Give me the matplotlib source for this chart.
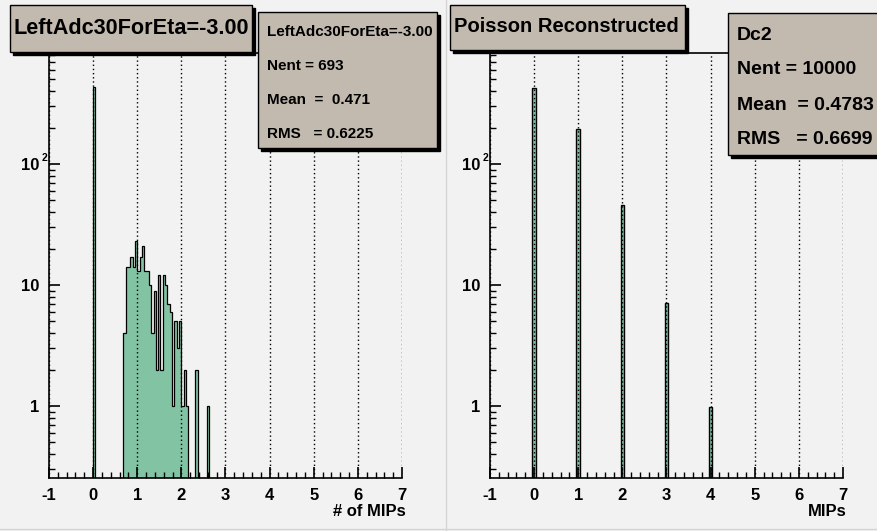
import numpy as np
import matplotlib.pyplot as plt
from matplotlib.patches import Rectangle
from matplotlib.lines import Line2D
from matplotlib.ticker import FixedLocator, MultipleLocator, LogLocator, NullFormatter

W, H = 878, 531
plt.rcParams['font.family'] = ['Liberation Sans', 'DejaVu Sans']
plt.rcParams['font.weight'] = 'bold'
plt.rcParams['axes.unicode_minus'] = False

# ---- data ----
mips_edges = np.linspace(-1, 7, 153)          # 152 bins over [-1, 7]
left_first_bin = 19                          # bin starting at 0 MIPs
left_counts = ([430] + [0]*12 +
               [4, 14, 14, 17, 14, 23, 13, 17, 21, 13, 13, 10, 4, 9,
                2, 12, 2, 12, 10, 7, 6, 1, 5, 3, 5, 1, 2, 1] +
               [0, 0, 0, 2, 0, 0, 0, 0, 1])
poisson_n = [0, 1, 2, 3, 4]
poisson_counts = [425, 196, 46, 7.1, 0.98]
xticks = list(range(-1, 8))
yticks = [1, 10, 100]
ytick_labels = ['1', '10', '10']

left_title = 'LeftAdc30ForEta=-3.00'
left_stats = ['LeftAdc30ForEta=-3.00', 'Nent = 693', 'Mean  =  0.471', 'RMS   = 0.6225']
right_title = 'Poisson Reconstructed'
right_stats = ['Dc2', 'Nent = 10000', 'Mean  = 0.4783', 'RMS   = 0.6699']

BG = '#f2f2f2'; BOX = '#c2b9af'; FILL = '#82c3a4'

fig = plt.figure(figsize=(W/100, H/100), dpi=100, facecolor=BG)
def fx(x): return x/W
def fy(y): return 1 - y/H

axL = fig.add_axes([fx(49), fy(478), 353/W, 425/H])
axR = fig.add_axes([fx(490), fy(478), 353/W, 425/H])

def setup(ax, xlabel):
    ax.set_facecolor(BG)
    ax.set_xlim(-1, 7); ax.set_yscale('log'); ax.set_ylim(0.254, 827)
    ax.spines['right'].set_visible(False)
    for s in ['left', 'bottom', 'top']: ax.spines[s].set_linewidth(1.2)
    ax.xaxis.set_major_locator(FixedLocator(xticks))
    ax.xaxis.set_minor_locator(MultipleLocator(0.2))
    ax.set_yticks(yticks); ax.set_yticklabels(ytick_labels)
    ax.yaxis.set_minor_locator(LogLocator(base=10, subs=np.arange(2, 10), numticks=20))
    ax.yaxis.set_minor_formatter(NullFormatter())
    ax.tick_params(which='both', direction='in', top=False, right=False, labelsize=12)
    ax.tick_params(which='major', length=8, width=1.2, pad=7)
    ax.tick_params(which='minor', length=4, width=1)
    ax.grid(axis='x', which='major', color='black', ls=(0, (1, 2)), lw=1)
    ax.set_axisbelow(False)
    ax.text(1.01, -0.078, xlabel, transform=ax.transAxes, ha='right', va='center',
            fontsize=12, fontweight='bold')
    ax.annotate('2', xy=(0, 100), xycoords=('axes fraction', 'data'), xytext=(-3.3, 4.5),
                textcoords='offset points', fontsize=7.5, ha='center', va='center')

# left histogram
vals = np.zeros(len(mips_edges) - 1)
vals[left_first_bin:left_first_bin + len(left_counts)] = left_counts
vals = np.where(vals > 0, vals, 1e-3)
axL.stairs(vals, mips_edges, fill=True, color=FILL, baseline=1e-3, zorder=1)
axL.stairs(vals, mips_edges, color='black', lw=0.9, baseline=1e-3, zorder=1.5)
setup(axL, '# of MIPs')

# right histogram
axR.bar(poisson_n, poisson_counts, width=0.08, bottom=1e-3, color=FILL,
        edgecolor='black', lw=1, zorder=1)
setup(axR, 'MIPs')

def box(x0, y0, x1, y1):
    fig.patches.append(Rectangle((fx(x0 + 3), fy(y1 + 3)), (x1 - x0)/W, (y1 - y0)/H,
                                 transform=fig.transFigure, color='black', zorder=5))
    fig.patches.append(Rectangle((fx(x0), fy(y1)), (x1 - x0)/W, (y1 - y0)/H,
                                 transform=fig.transFigure, facecolor=BOX,
                                 edgecolor='black', lw=1, zorder=6))

box(10, 5, 252, 52)
fig.text(fx(131), fy(28), left_title, ha='center', va='center', fontsize=15.6, zorder=7)
box(258, 12, 437, 148)
for t, y in zip(left_stats, [32, 66, 100, 134]):
    fig.text(fx(267), fy(y), t, ha='left', va='center', fontsize=11, zorder=7)
box(450, 5, 685, 50)
fig.text(fx(566), fy(27), right_title, ha='center', va='center', fontsize=14.5, zorder=7)
box(728, 13, 900, 155)
for t, y in zip(right_stats, [35, 70, 105, 140]):
    fig.text(fx(737), fy(y), t, ha='left', va='center', fontsize=14, zorder=7)

# pad borders
fig.add_artist(Line2D([fx(446), fx(446)], [0, 1], color='#d4d4d4', lw=1))
fig.add_artist(Line2D([0, 1], [fy(529), fy(529)], color='#d4d4d4', lw=1))

fig.savefig('out.png', dpi=100, facecolor=BG)
